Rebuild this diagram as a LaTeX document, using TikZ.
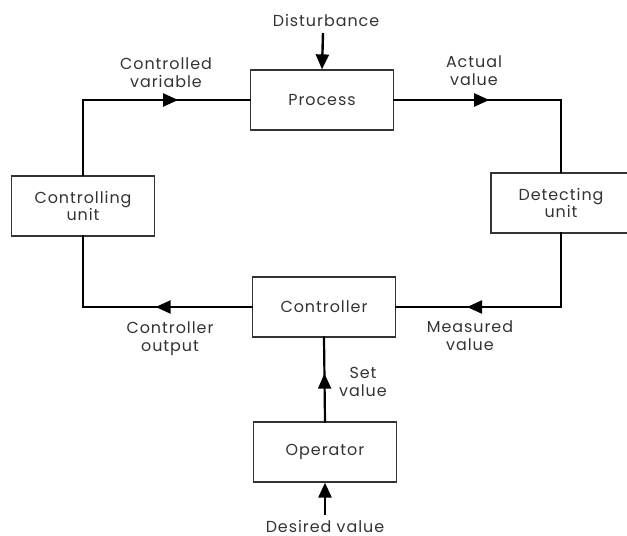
\documentclass[tikz,border=0pt]{standalone}
\usepackage{fontspec}
\setmainfont{Poppins}[LetterSpace=6]
\usetikzlibrary{positioning, arrows.meta, decorations.markings}

\begin{document}
\begin{tikzpicture}[x=0.5bp, y=-0.5bp,
        block/.style={rectangle, draw=black!80, line width=0.6bp, minimum width=71.5bp, minimum height=30bp, text=black!80, font=\fontsize{8}{9}\selectfont, align=center},
        lbl/.style={text=black!80, font=\fontsize{8}{9}\selectfont, align=center},
        flow/.style={line width=1.1bp, line cap=rect},
        midarrow/.style={flow, postaction={decorate}, decoration={markings, mark=at position 0.57 with {\arrow{Triangle[length=7.5bp, width=6.5bp]}}}},
        endarrow/.style={line width=1.2bp, -{Triangle[length=7.5bp, width=6.5bp]}},
    ]
    \useasboundingbox (0,0) rectangle (627,536);

    % Blocks
    \node[block] (proc) at (322,100) {Process};
    \node[block] (ctlu) at (83,206) {Controlling\\unit};
    \node[block, minimum width=70bp] (det) at (561,203) {Detecting\\unit};
    \node[block] (ctrl) at (324,307) {Controller};
    \node[block] (op) at (325,452) {Operator};

    % Corners of the loop
    \coordinate (tl) at (ctlu.north |- proc.west);
    \coordinate (tr) at (det.north |- proc.east);
    \coordinate (br) at (det.south |- ctrl.east);
    \coordinate (bl) at (ctlu.south |- ctrl.west);

    % Loop
    \draw[flow] (ctlu.north) -- (tl);
    \draw[midarrow] (tl) -- (proc.west);
    \draw[midarrow] (proc.east) -- (tr);
    \draw[flow] (tr) -- (det.north);
    \draw[flow] (det.south) -- (br);
    \draw[midarrow] (br) -- (ctrl.east);
    \draw[midarrow] (ctrl.west) -- (bl);
    \draw[flow] (bl) -- (ctlu.south);
    \draw[midarrow] (op.north) -- (ctrl.south);

    % Inputs
    \node[lbl] (distl) at (326,21) {Disturbance};
    \coordinate (dist) at (323,33);
    \draw[endarrow] (dist) -- (proc.north);
    \node[lbl, anchor=base] (desl) at (325,532) {Desired value};
    \coordinate (des) at (325,515);
    \draw[endarrow] (des) -- (op.south);

    % Signal labels
    \node[lbl] (cvl) at (166,73) {Controlled\\variable};
    \node[lbl] (avl) at (474,71) {Actual\\value};
    \node[lbl] (mvl) at (470,336) {Measured\\value};
    \node[lbl] (col) at (170,339) {Controller\\output};
    \node[lbl] (svl) at (363,382) {Set\\value};
\end{tikzpicture}
\end{document}
